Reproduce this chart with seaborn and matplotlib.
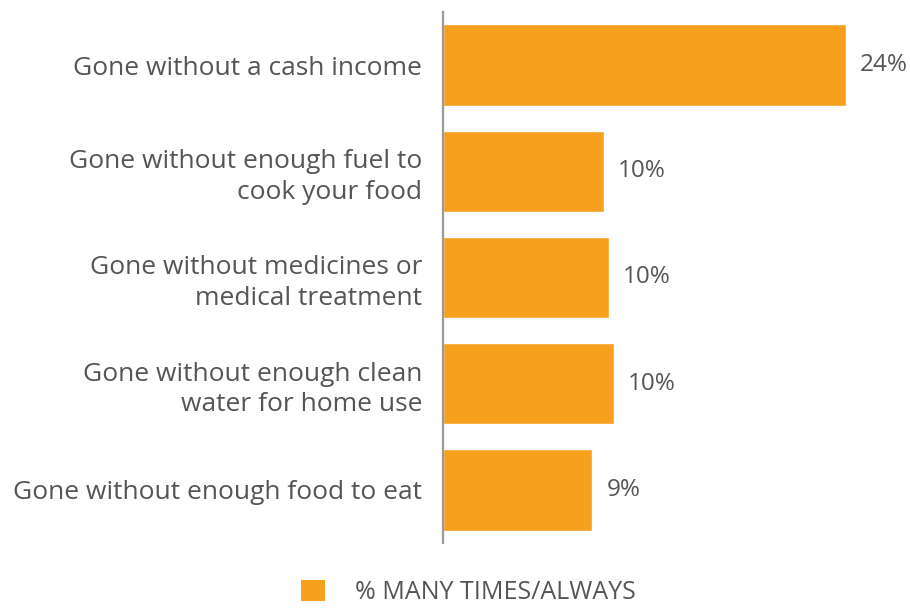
import matplotlib
matplotlib.use("Agg")
import matplotlib.pyplot as plt
import seaborn as sns
import pandas as pd
from matplotlib.patches import Patch

categories = [
    "Gone without a cash income",
    "Gone without enough fuel to\ncook your food",
    "Gone without medicines or\nmedical treatment",
    "Gone without enough clean\nwater for home use",
    "Gone without enough food to eat",
]
values = [24.0, 9.6, 9.9, 10.2, 8.9]
series_name = "% MANY TIMES/ALWAYS"

bar_color = "#F7A01E"
text_color = "#555555"
font_size = 19

sns.set_theme(style="white")
plt.rcParams["font.family"] = ["Open Sans", "DejaVu Sans"]

df = pd.DataFrame({"category": categories, "value": values})

fig = plt.figure(figsize=(9.1, 6.09), dpi=100)
ax = fig.add_axes([0.4868, 0.1084, 0.4981, 0.8719])

sns.barplot(data=df, y="category", x="value", orient="h", color=bar_color,
            saturation=1, width=0.765, ax=ax)

ax.set_xlim(0, 27)
ax.set_ylim(4.5, -0.5)
ax.set_xlabel("")
ax.set_ylabel("")
ax.set_xticks([])
for side in ["top", "right", "bottom"]:
    ax.spines[side].set_visible(False)
ax.spines["left"].set_color("#9a9a9a")
ax.spines["left"].set_linewidth(1.6)
ax.tick_params(axis="y", length=0, pad=15, labelsize=font_size, labelcolor=text_color)
for lbl in ax.get_yticklabels():
    lbl.set_horizontalalignment("right")
    lbl.set_multialignment("right")
    lbl.set_linespacing(1.3)

for i, v in enumerate(values):
    ax.annotate(f"{round(v)}%", xy=(v, i), xytext=(14, 0),
                textcoords="offset pixels", va="center", ha="left",
                fontsize=17.5, color=text_color)

fig.legend(handles=[Patch(facecolor=bar_color, edgecolor="none")],
           labels=[series_name], loc="center",
           bbox_to_anchor=(0.515, 0.027), frameon=False, fontsize=18,
           labelcolor=text_color, handlelength=0.95, handleheight=0.95,
           handletextpad=1.2)

fig.savefig("out.png", dpi=100)
